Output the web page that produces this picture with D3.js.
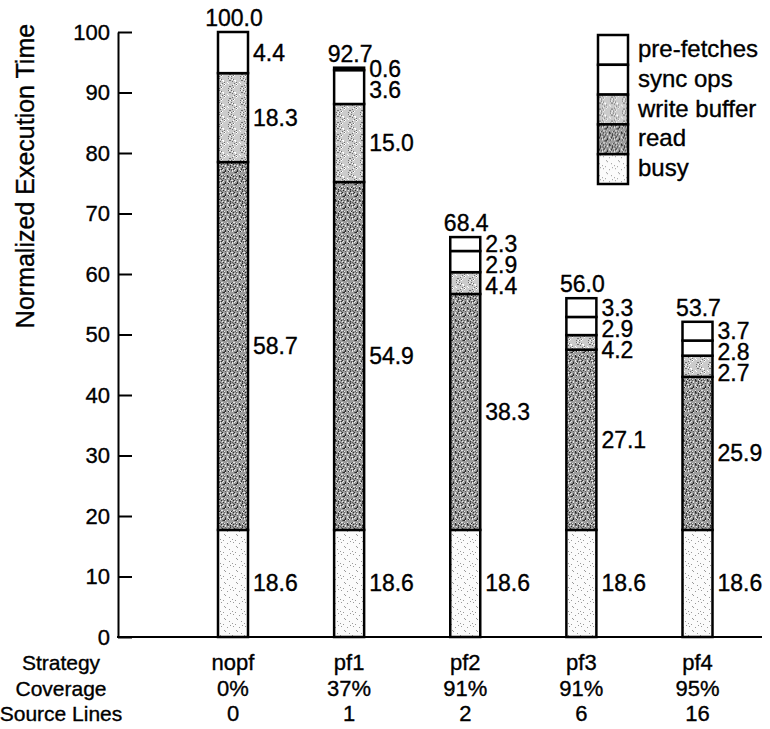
<!DOCTYPE html>
<html>
<head>
<meta charset="utf-8">
<script src="https://cdn.jsdelivr.net/npm/d3@7"></script>
<style>
  body { margin: 0; background: #fff; }
  svg text { font-family: "Liberation Sans", Arial, Helvetica, sans-serif; fill: #000; stroke: #000; stroke-width: 0.35px; }
</style>
</head>
<body>
<div id="chart"></div>
<script>
const width = 770
const height = 729

const strategies = ["nopf", "pf1", "pf2", "pf3", "pf4"]
const coverage = ["0%", "37%", "91%", "91%", "95%"]
const sourceLines = ["0", "1", "2", "6", "16"]

// segment heights as they are drawn in the figure (bottom to top)
const busy = [17.7, 17.7, 17.7, 17.7, 17.7]
const read = [60.8, 57.5, 39.0, 29.8, 25.3]
const writeBuffer = [14.7, 12.9, 3.6, 2.4, 3.5]
const syncOps = [6.8, 5.6, 3.5, 3.0, 2.5]
const preFetches = [0, 0.4, 2.3, 3.1, 3.1]

// numbers printed beside the segments
const busyLabels = ["18.6", "18.6", "18.6", "18.6", "18.6"]
const readLabels = ["58.7", "54.9", "38.3", "27.1", "25.9"]
const writeLabels = ["18.3", "15.0", "4.4", "4.2", "2.7"]
const syncLabels = ["4.4", "3.6", "2.9", "2.9", "2.8"]
const prefetchLabels = [null, "0.6", "2.3", "3.3", "3.7"]
const totalLabels = ["100.0", "92.7", "68.4", "56.0", "53.7"]

const yTicks = [0, 10, 20, 30, 40, 50, 60, 70, 80, 90, 100]
const rowTitles = ["Strategy", "Coverage", "Source Lines"]

const keys = ["busy", "read", "writeBuffer", "syncOps", "preFetches"]
const legendNames = {busy: "busy", read: "read", writeBuffer: "write buffer", syncOps: "sync ops", preFetches: "pre-fetches"}
const fills = {busy: "url(#pat-busy)", read: "url(#pat-read)", writeBuffer: "url(#pat-write)", syncOps: "#fff", preFetches: "#fff"}

// table for d3.stack, built from the arrays above
const table = strategies.map((s, i) => ({
  strategy: s,
  busy: busy[i], read: read[i], writeBuffer: writeBuffer[i], syncOps: syncOps[i], preFetches: preFetches[i],
  labels: {busy: busyLabels[i], read: readLabels[i], writeBuffer: writeLabels[i], syncOps: syncLabels[i], preFetches: prefetchLabels[i]},
  total: totalLabels[i]
}))

const svg = d3.select("#chart").append("svg")
  .attr("width", width)
  .attr("height", height)

// --- stipple patterns (grey-scale print look) ---
const defs = svg.append("defs")
const addPattern = (id, size, base, dots) => {
  const p = defs.append("pattern")
    .attr("id", id)
    .attr("patternUnits", "userSpaceOnUse")
    .attr("width", size).attr("height", size)
  p.append("rect").attr("width", size).attr("height", size).attr("fill", base)
  for (let i = 0; i < size; i++) {
    for (let j = 0; j < size; j++) {
      const h = (i * 37 + j * 91 + i * j * 13) % 17
      dots.forEach(d => {
        if (d.k.includes(h)) {
          p.append("rect").attr("x", i).attr("y", j).attr("width", 1).attr("height", 1).attr("fill", d.c)
        }
      })
    }
  }
}
addPattern("pat-read", 12, "#9c9c9c", [{k: [1, 5], c: "#2a2a2a"}, {k: [9, 12, 16], c: "#e6e6e6"}, {k: [3, 14], c: "#5c5c5c"}])
addPattern("pat-write", 12, "#cbcbcb", [{k: [2, 7], c: "#707070"}, {k: [10, 15], c: "#ffffff"}])
addPattern("pat-busy", 12, "#fbfbfb", [{k: [4], c: "#9a9a9a"}])

// --- scales ---
const y = d3.scaleLinear().domain([0, 100]).range([637, 32])
const x = d3.scalePoint().domain(strategies).range([233, 697.5])
const barW = 30

// --- y axis ---
const yAxis = d3.axisLeft(y)
  .tickValues(yTicks)
  .tickSize(-14)
  .tickSizeOuter(0)
  .tickPadding(8)

const gy = svg.append("g")
  .attr("transform", "translate(118, 0)")
  .call(yAxis)
gy.select(".domain").attr("stroke-width", 2)
gy.selectAll(".tick line").attr("stroke-width", 2)
gy.selectAll(".tick text")
  .attr("font-size", 22)
  .attr("font-family", "Liberation Sans, Arial, sans-serif")

svg.append("text")
  .attr("transform", "translate(34, 176) rotate(-90)")
  .attr("text-anchor", "middle")
  .attr("font-size", 25)
  .text("Normalized Execution Time")

// --- x baseline ---
svg.append("line")
  .attr("x1", 117).attr("x2", 762)
  .attr("y1", y(0)).attr("y2", y(0))
  .attr("stroke", "#000").attr("stroke-width", 2)

// --- stacked bars ---
const series = d3.stack().keys(keys)(table)

svg.append("g")
  .selectAll("g")
  .data(series)
  .join("g")
    .attr("fill", d => fills[d.key])
  .selectAll("rect")
  .data(d => d.filter(s => s[1] - s[0] > 0))
  .join("rect")
    .attr("x", d => x(d.data.strategy) - barW / 2)
    .attr("y", d => y(d[1]))
    .attr("width", barW)
    .attr("height", d => y(d[0]) - y(d[1]))
    .attr("stroke", "#000")
    .attr("stroke-width", 2.5)

// --- totals above bars ---
svg.append("g")
  .selectAll("text")
  .data(table)
  .join("text")
    .attr("x", d => x(d.strategy) + 1)
    .attr("y", d => y(d3.sum(keys, k => d[k])) - 6)
    .attr("text-anchor", "middle")
    .attr("font-size", 23)
    .text(d => d.total)

// --- segment labels, pushed apart where segments are thin ---
const segLabels = []
table.forEach(row => {
  let base = 0
  const items = keys.map(k => {
    const lo = base, hi = base + row[k]
    base = hi
    return {strategy: row.strategy, text: row.labels[k], pos: (y(lo) + y(hi)) / 2 + 8}
  }).filter(d => d.text !== null).reverse()
  for (let i = 1; i < items.length; i++) {
    if (items[i].pos < items[i - 1].pos + 21) items[i].pos = items[i - 1].pos + 21
  }
  segLabels.push(...items)
})

svg.append("g")
  .selectAll("text")
  .data(segLabels)
  .join("text")
    .attr("x", d => x(d.strategy) + barW / 2 + 5)
    .attr("y", d => d.pos)
    .attr("font-size", 23)
    .text(d => d.text)

// --- legend ---
const legendKeys = keys.slice().reverse()
const legend = svg.append("g").attr("transform", "translate(598, 35)")
const lg = legend.selectAll("g")
  .data(legendKeys)
  .join("g")
    .attr("transform", (d, i) => `translate(0, ${i * 29.8})`)
lg.append("rect")
  .attr("width", 30).attr("height", 29.8)
  .attr("fill", d => fills[d])
  .attr("stroke", "#000").attr("stroke-width", 2.5)
lg.append("text")
  .attr("x", 40).attr("y", 14)
  .attr("dy", "0.33em")
  .attr("font-size", 24)
  .text(d => legendNames[d])

// --- table under the axis ---
const rows = [strategies, coverage, sourceLines]
const rowY = [670, 696, 721]
rows.forEach((vals, r) => {
  svg.append("text")
    .attr("x", 61).attr("y", rowY[r])
    .attr("text-anchor", "middle")
    .attr("font-size", 21)
    .text(rowTitles[r])
  svg.append("g")
    .selectAll("text")
    .data(vals)
    .join("text")
      .attr("x", (d, i) => x(strategies[i]))
      .attr("y", rowY[r])
      .attr("text-anchor", "middle")
      .attr("font-size", 22)
      .text(d => d)
})
</script>
</body>
</html>
